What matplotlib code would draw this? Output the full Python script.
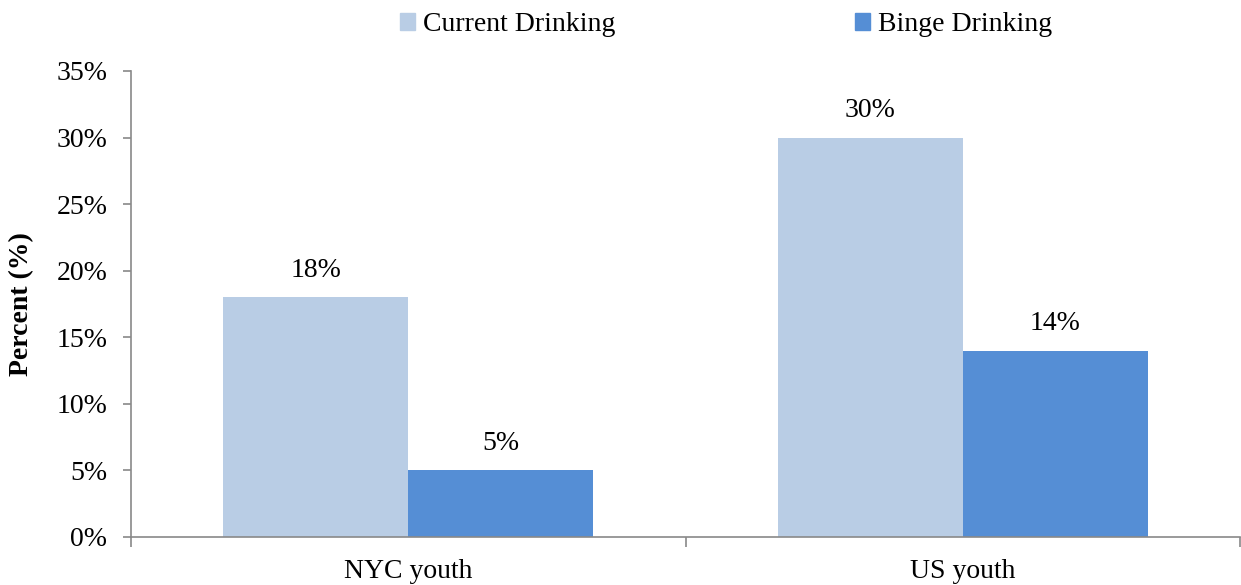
import matplotlib
matplotlib.use("Agg")
import matplotlib.pyplot as plt
import numpy as np
from matplotlib.ticker import FuncFormatter, FixedLocator
from matplotlib.patches import Patch

categories = ["NYC youth", "US youth"]
series_names = ["Current Drinking", "Binge Drinking"]
current = [18, 30]
binge = [5, 14]
colors = ["#B9CDE5", "#558ED5"]

plt.rcParams['font.family'] = ['Liberation Serif', 'DejaVu Serif']
FS = 20

fig = plt.figure(figsize=(12.41, 5.85), dpi=100)
ax = fig.add_axes([131/1241, 1-537/585, (1240-131)/1241, (537-71)/585])

x = np.arange(len(categories))
w = 1/3
b1 = ax.bar(x - w/2, current, w, color=colors[0], label=series_names[0])
b2 = ax.bar(x + w/2, binge, w, color=colors[1], label=series_names[1])
for bars, vals in ((b1, current), (b2, binge)):
    for r, v in zip(bars, vals):
        ax.text(r.get_x() + r.get_width()/2, v + 1.1, f"{v}%", ha='center', va='bottom', fontsize=FS)

ax.set_xlim(-0.5, len(categories) - 0.5)
ax.set_ylim(0, 35)
ax.set_yticks(np.arange(0, 36, 5))
ax.yaxis.set_major_formatter(FuncFormatter(lambda v, p: f"{int(v)}%"))
ax.set_xticks(x)
ax.set_xticklabels(categories, fontsize=FS)
ax.tick_params(axis='x', length=0, pad=16)
ax.xaxis.set_minor_locator(FixedLocator([-0.5, 0.5, 1.5]))
ax.tick_params(axis='x', which='minor', length=7, color='#898989', width=1.2, direction='out')
ax.tick_params(axis='y', length=6, color='#898989', width=1.2, labelsize=FS, pad=11)
for s in ['top', 'right']:
    ax.spines[s].set_visible(False)
for s in ['left', 'bottom']:
    ax.spines[s].set_color('#898989')
    ax.spines[s].set_linewidth(1.2)
ax.set_ylabel("Percent (%)", fontsize=FS, fontweight='bold', labelpad=16)

handles = [Patch(color=colors[0]), Patch(color=colors[1])]
fig.legend(handles, series_names, loc='upper center', bbox_to_anchor=(0.585, 1.022), ncol=2,
           frameon=False, fontsize=FS, handlelength=0.55, handleheight=0.55, handletextpad=0.3,
           columnspacing=8.6)

fig.savefig("out.png", dpi=100)
